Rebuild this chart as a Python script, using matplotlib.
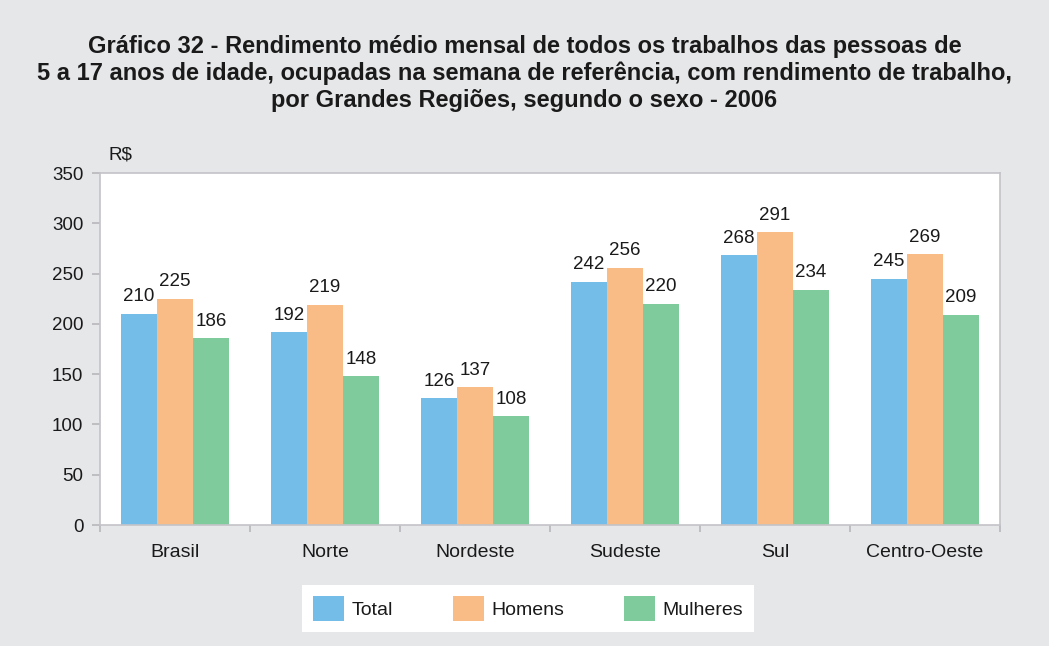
import matplotlib
matplotlib.use("Agg")
import matplotlib.pyplot as plt
import numpy as np

categories = ["Brasil", "Norte", "Nordeste", "Sudeste", "Sul", "Centro-Oeste"]
total = [210, 192, 126, 242, 268, 245]
homens = [225, 219, 137, 256, 291, 269]
mulheres = [186, 148, 108, 220, 234, 209]
series_names = ["Total", "Homens", "Mulheres"]
colors = ["#74bde8", "#f9bc86", "#80cb9b"]
yticks = [0, 50, 100, 150, 200, 250, 300, 350]

plt.rcParams['font.family'] = ['Liberation Sans', 'DejaVu Sans']

bg = "#e6e7e9"
fig = plt.figure(figsize=(10.49, 6.46), dpi=100, facecolor=bg)
ax = fig.add_axes([100/1049, 1-525/646, 900/1049, (525-173)/646])
ax.set_facecolor("white")

x = np.arange(len(categories))
w = 0.24
for i, (vals, name, c) in enumerate(zip([total, homens, mulheres], series_names, colors)):
    pos = x + (i - 1) * w
    ax.bar(pos, vals, width=w, color=c, label=name, zorder=2)
    for xp, v in zip(pos, vals):
        ax.annotate(str(v), (xp, v), xytext=(0, 6), textcoords="offset points",
                    ha="center", va="bottom", fontsize=13.5, color="#1a1a1a")

ax.set_xlim(-0.5, len(categories) - 0.5)
ax.set_ylim(0, 350)
ax.set_yticks(yticks)
ax.set_yticklabels([str(t) for t in yticks], fontsize=13.5, color="#1a1a1a")
ax.set_xticks(x)
ax.set_xticklabels(categories, fontsize=14, color="#1a1a1a")
ax.tick_params(axis="x", which="major", length=0, pad=14)
ax.set_xticks(np.arange(-0.5, len(categories) + 0.5, 1), minor=True)
ax.tick_params(axis="x", which="minor", length=5, color="#b8b8bc", width=1.2)
ax.tick_params(axis="y", length=6, color="#b8b8bc", width=1.2, pad=6)
for s in ax.spines.values():
    s.set_color("#c4c4c8")
    s.set_linewidth(1.2)

ax.text(108/1049, 1-155/646, "R$", transform=fig.transFigure, fontsize=13.5,
        ha="left", va="center", color="#1a1a1a")

fig.text(0.5, 1-73.5/646,
         "Gráfico 32 - Rendimento médio mensal de todos os trabalhos das pessoas de\n"
         "5 a 17 anos de idade, ocupadas na semana de referência, com rendimento de trabalho,\n"
         "por Grandes Regiões, segundo o sexo - 2006",
         ha="center", va="center", fontsize=17, fontweight="bold", color="#1a1a1a",
         linespacing=1.2)

leg = fig.legend(loc="center", bbox_to_anchor=(528/1049, 1-608.5/646), ncol=3,
                 fontsize=14, frameon=True, fancybox=False, handlelength=1.6,
                 handleheight=1.6, handletextpad=0.36, columnspacing=3.1,
                 borderpad=0.55, borderaxespad=0, framealpha=1)
leg.get_frame().set_facecolor("white")
leg.get_frame().set_edgecolor("white")
leg.get_frame().set_linewidth(0)
for t in leg.get_texts():
    t.set_color("#1a1a1a")

fig.savefig("out.png", dpi=100, facecolor=bg)
